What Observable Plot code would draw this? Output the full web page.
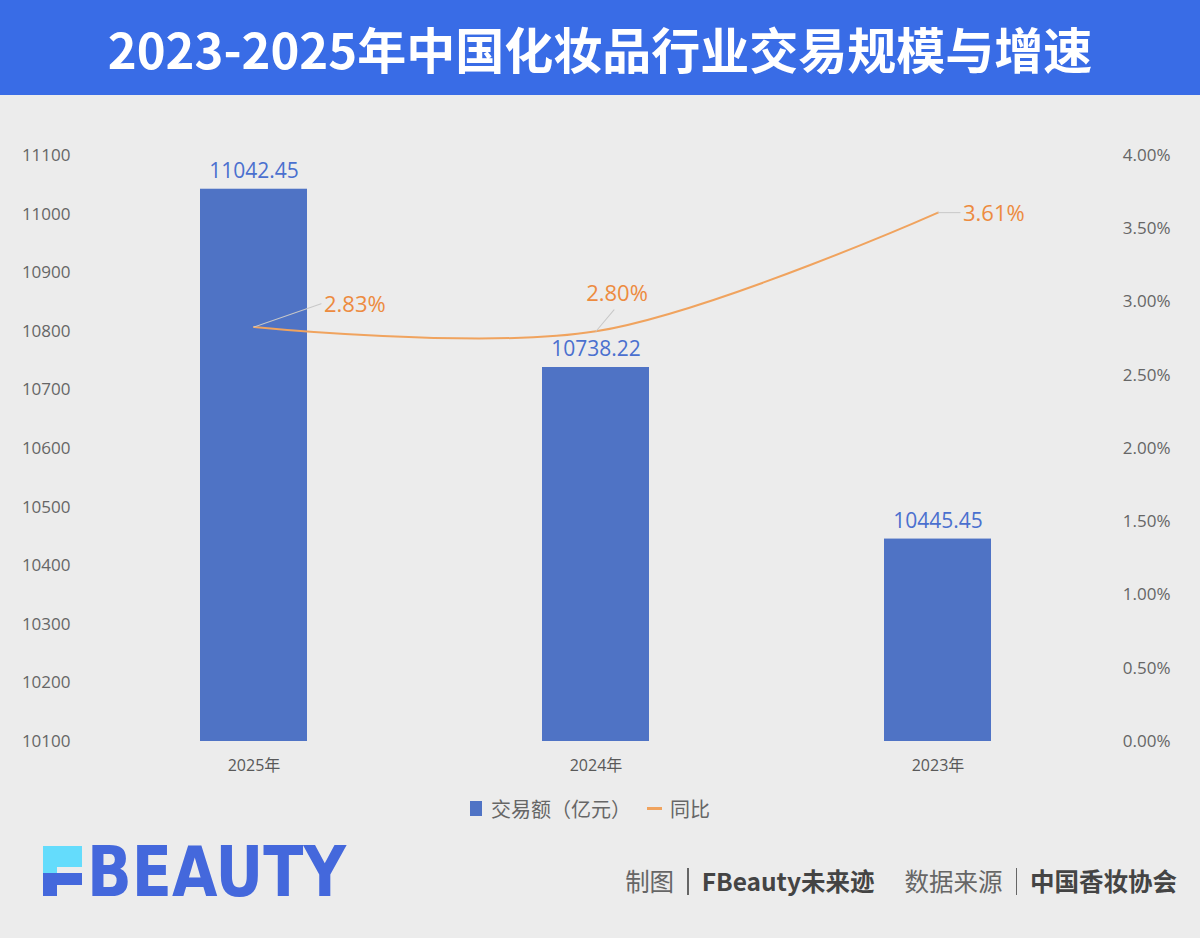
<!DOCTYPE html>
<html>
<head>
<meta charset="utf-8">
<script src="https://cdn.jsdelivr.net/npm/d3@7"></script>
<script src="https://cdn.jsdelivr.net/npm/@observablehq/plot@0.6"></script>
<style>
  html, body { margin:0; padding:0; }
  body { width:1200px; height:938px; background:#ececec; position:relative; overflow:hidden;
         font-family:"Noto Sans CJK SC","Open Sans",sans-serif; }
  #header { position:absolute; left:0; top:0; width:1200px; height:95px; background:#396ce6;
            color:#fff; font-weight:700; font-size:49px; line-height:95px; text-align:center; }
  #chart { position:absolute; left:0; top:95px; }
  #legend { position:absolute; left:470px; top:794px; display:flex; align-items:center;
            font-size:20px; color:#666; }
  #legend .sw { display:inline-block; width:12px; height:15px; background:#4f73c5; margin-right:9px; }
  #legend .ln { display:inline-block; width:15px; height:3px; background:#f0a35e; margin:0 8px 0 16px; }
  #logo { position:absolute; left:40px; top:820px; }
  #credit { position:absolute; right:23px; top:863px; display:flex; align-items:center; font-size:24.5px; color:#666; line-height:36px; }
  #credit b { color:#444; font-weight:700; }
  #credit .sep { display:inline-block; width:1.5px; height:27px; background:#666; margin:0 13px; }
</style>
</head>
<body>
<div id="header">2023-2025年中国化妆品行业交易规模与增速</div>
<div id="chart"></div>
<div id="legend"><span class="sw"></span>交易额（亿元）<span class="ln"></span>同比</div>
<svg id="logo" width="540" height="105" viewBox="0 0 540 105">
  <rect x="3" y="26" width="39" height="21" fill="#64dcfc"/>
  <rect x="3" y="47" width="14" height="6" fill="#64dcfc"/>
  <rect x="3" y="53" width="39" height="12" fill="#4468dc"/>
  <rect x="3" y="65" width="14" height="11" fill="#4468dc"/>
  <text x="47" y="76" font-family="'DejaVu Sans','Liberation Sans',sans-serif" font-weight="900" font-size="70"
        fill="#4468dc" textLength="259" lengthAdjust="spacingAndGlyphs">BEAUTY</text>
</svg>
<div id="credit">制图<span class="sep"></span><b>FBeauty未来迹</b><span style="display:inline-block;width:30px"></span>数据来源<span class="sep"></span><b>中国香妆协会</b></div>
<script>
// ---- data ----
const years = ["2025年", "2024年", "2023年"];
const amounts = [11042.45, 10738.22, 10445.45];   // 交易额（亿元）
const growth = [2.83, 2.80, 3.61];                // 同比 (%)
const leftTicks = [10100, 10200, 10300, 10400, 10500, 10600, 10700, 10800, 10900, 11000, 11100];
const rightTicks = [0, 0.5, 1, 1.5, 2, 2.5, 3, 3.5, 4];

// ---- styles / layout ----
const yMin = 10100, yMax = 11100, pctMax = 4;
const pctToY = p => yMin + p / pctMax * (yMax - yMin);
const yToPct = v => (v - yMin) / (yMax - yMin) * pctMax;
const leaderLen = [71, 28, 22];
const leaderAngle = [71, 40, 90];
const labelDx = [70, 21, 25];
const labelDy = [-22, -37, 1];
const labelAnchor = ["start", "middle", "start"];

const rows = years.map((y, i) => ({year: y, value: amounts[i], growth: growth[i], gy: pctToY(growth[i]), i}));

const blue = "#4f73c5", orange = "#f0a35e", orangeText = "#ed8b3f";
const lineShape = { draw(ctx, l) { ctx.moveTo(0, 0); ctx.lineTo(0, -l); } };

const plot = Plot.plot({
  width: 1200, height: 690,
  marginTop: 60, marginBottom: 44, marginLeft: 62, marginRight: 72,
  style: { background: "transparent", fontFamily: "'Open Sans','Noto Sans CJK SC',sans-serif" },
  x: { domain: years, paddingInner: 0.6876, paddingOuter: 0.4, label: null },
  y: { domain: [yMin, yMax], label: null },
  length: { type: "identity" },
  marks: [
    Plot.barY(rows, { x: "year", y1: yMin, y2: "value", fill: blue }),
    Plot.text(rows, { x: "year", y: "value", text: d => d.value.toFixed(2), dy: -18, fill: "#4a70cf", fontSize: 21 }),
    Plot.line(rows, { x: "year", y: "gy", stroke: orange, strokeWidth: 2, curve: "catmull-rom" }),
    Plot.vector(rows, { x: "year", y: "gy", length: d => leaderLen[d.i], rotate: d => leaderAngle[d.i],
                        anchor: "start", shape: lineShape, stroke: "#c8c8c8", strokeWidth: 1 }),
    ...rows.map((d, i) => Plot.text([d], { x: "year", y: "gy", text: d => d.growth.toFixed(2) + "%",
                        dx: labelDx[i], dy: labelDy[i], textAnchor: labelAnchor[i], fill: orangeText, fontSize: 22 })),
    Plot.axisY(leftTicks, { anchor: "left", tickSize: 0, tickPadding: -8, fontSize: 17, color: "#666",
                        tickFormat: d => String(d), label: null }),
    Plot.axisY(rightTicks.map(pctToY), { anchor: "right", tickSize: 0, tickPadding: 42, textAnchor: "end",
                        tickFormat: v => yToPct(v).toFixed(2) + "%", fontSize: 17, color: "#666", label: null }),
    Plot.axisX({ tickSize: 0, tickPadding: 18, fontSize: 16, color: "#595959", label: null })
  ]
});
document.getElementById("chart").appendChild(plot);
</script>
</body>
</html>
